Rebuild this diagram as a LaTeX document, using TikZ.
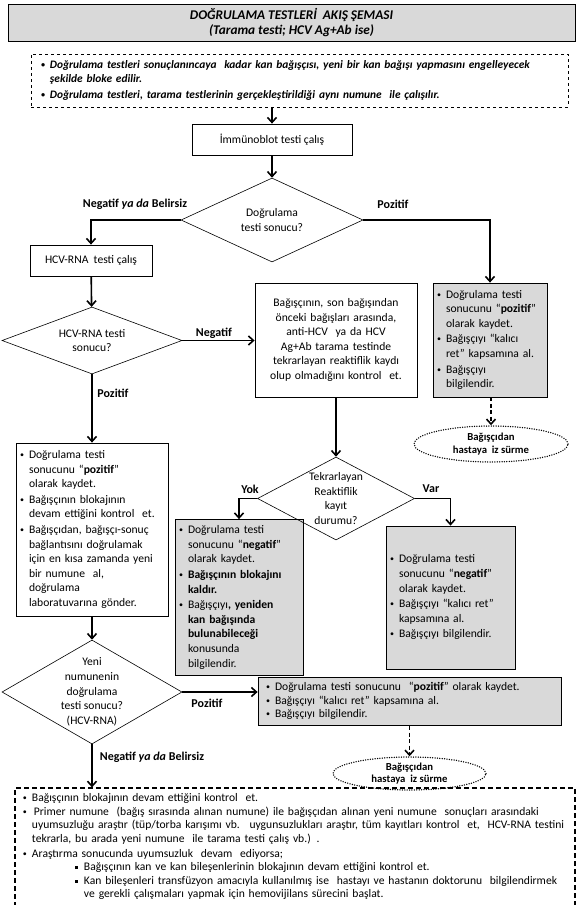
\documentclass[tikz,border=0pt]{standalone}
\usepackage{fontspec}
\setmainfont{Carlito}
\usepackage{xcolor}
\usetikzlibrary{arrows.meta,shapes.geometric}
\definecolor{gri}{HTML}{D9D9D9}
\newcommand{\mad}[1]{\makebox[9pt][l]{\raisebox{1pt}{\fontsize{8}{8}\selectfont\textbullet}}\begin{tabular}[t]{@{}l@{}}#1\end{tabular}}
\newcommand{\kare}[1]{\makebox[9pt][l]{\raisebox{1.5pt}{\rule{3.2pt}{3.2pt}}}\begin{tabular}[t]{@{}l@{}}#1\end{tabular}}

\begin{document}
\begin{tikzpicture}[x=1pt,y=-1pt,
  kutu/.style={draw, line width=0.8pt, inner sep=4pt, font=\fontsize{11.6}{14.6}\selectfont},
  gkutu/.style={kutu, fill=gri},
  karar/.style={diamond, draw, line width=0.6pt, inner sep=0pt},
  yazi/.style={align=center, font=\fontsize{11.6}{14.6}\selectfont},
  ok/.style={line width=1.6pt, -{Straight Barb[length=5pt,width=9pt]}},
  kesok/.style={ok, dash pattern=on 4pt off 2.5pt},
  iz/.style={ellipse, draw, line width=1.5pt, dash pattern=on 0pt off 2.4pt, line cap=round, inner sep=0pt, align=center, font=\fontsize{10.7}{12.7}\selectfont\bfseries},
  etiket/.style={font=\fontsize{12}{14.6}\selectfont\bfseries}]
\useasboundingbox (0,0) rectangle (577,905);
% блоки
\node[gkutu, minimum width=567, minimum height=37, align=center, font=\fontsize{13.3}{15}\selectfont\bfseries\itshape] (baslik) at (291.5,22.5)
  {DOĞRULAMA TESTLERİ \ AKIŞ ŞEMASI\\(Tarama testi; HCV Ag+Ab ise)};
\node[kutu, dashed, line width=0.6pt, text width=517, inner xsep=10pt, minimum height=47, align=left, font=\fontsize{11.4}{14.6}\selectfont\bfseries\itshape] (ust) at (299.5,80.5)
  {\mad{Doğrulama testleri sonuçlanıncaya \ kadar kan bağışçısı, yeni bir kan bağışı yapmasını engelleyecek\\şekilde bloke edilir.}\\
   \mad{Doğrulama testleri, tarama testlerinin gerçekleştirildiği aynı numune \ ile çalışılır.}};
\node[kutu, minimum width=160, minimum height=31] (imm) at (272,139.5) {İmmünoblot testi çalış};
\node[kutu, minimum width=122, minimum height=31] (hcv) at (91,260.5) {HCV-RNA \ testi çalış};
\node[kutu, text width=154, minimum height=114, align=center] (orta) at (336,340)
  {Bağışçının, son bağışından\\önceki bağışları arasında,\\anti-HCV \ ya da HCV\\Ag+Ab tarama testinde\\tekrarlayan reaktiflik kaydı\\olup olmadığını kontrol \ et.};
\node[gkutu, text width=106, minimum height=114, align=left] (sag) at (490,340)
  {\mad{Doğrulama testi\\sonucunu “\textbf{pozitif}”\\olarak kaydet.}\\
   \mad{Bağışçıyı “kalıcı\\ret” kapsamına al.}\\
   \mad{Bağışçıyı\\bilgilendir.}};
\node[iz, minimum width=154, minimum height=36] (iz1) at (491,444) {Bağışçıdan\\hastaya \ iz sürme};
\node[kutu, text width=144, minimum height=173, align=left] (sol) at (92,529.5)
  {\mad{Doğrulama testi\\sonucunu “\textbf{pozitif}”\\olarak kaydet.}\\
   \mad{Bağışçının blokajının\\devam ettiğini kontrol \ et.}\\
   \mad{Bağışçıdan, bağışçı-sonuç\\bağlantısını doğrulamak\\için en kısa zamanda yeni\\bir numune \ al,\\doğrulama\\laboratuvarına gönder.}};
\node[gkutu, text width=120, minimum height=143, align=left] (yok) at (239,597.5)
  {\mad{Doğrulama testi\\sonucunu “\textbf{negatif}”\\olarak kaydet.}\\
   \mad{\textbf{Bağışçının blokajını}\\\textbf{kaldır.}}\\
   \mad{Bağışçıyı\textbf{, yeniden}\\\textbf{kan bağışında}\\\textbf{bulunabileceği}\\konusunda\\bilgilendir.}};
\node[gkutu, text width=121, minimum height=143, align=left] (var) at (450.5,597.5)
  {\mad{Doğrulama testi\\sonucunu “\textbf{negatif}”\\olarak kaydet.}\\
   \mad{Bağışçıyı “kalıcı ret”\\kapsamına al.}\\
   \mad{Bağışçıyı bilgilendir.}};
\node[gkutu, text width=287, inner xsep=8pt, minimum height=45, align=left, font=\fontsize{11.6}{13.5}\selectfont] (poz) at (409.5,701.5)
  {\mad{Doğrulama testi sonucunu \ “\textbf{pozitif}” olarak kaydet.}\\
   \mad{Bağışçıyı “kalıcı ret” kapsamına al.}\\
   \mad{Bağışçıyı bilgilendir.}};
\node[iz, minimum width=153, minimum height=33] (iz2) at (409.5,773.5) {Bağışçıdan\\hastaya \ iz sürme};
\node[kutu, dashed, dash pattern=on 5pt off 3pt, line width=1.4pt, text width=544, inner xsep=8pt, minimum height=110, align=left, font=\fontsize{11.6}{13.6}\selectfont] (alt) at (295,847)
  {\mad{Bağışçının blokajının devam ettiğini kontrol \ et.}\\
   \mad{\,Primer numune \ (bağış sırasında alınan numune) ile bağışçıdan alınan yeni numune \ sonuçları arasındaki\\uyumsuzluğu araştır (tüp/torba karışımı vb. \ uygunsuzlukları araştır, tüm kayıtları kontrol \ et, \ HCV-RNA testini\\tekrarla, bu arada yeni numune \ ile tarama testi çalış vb.) .}\\
   \mad{Araştırma sonucunda uyumsuzluk \ devam \ ediyorsa;}\\
   \hspace*{52pt}\kare{Bağışçının kan ve kan bileşenlerinin blokajının devam ettiğini kontrol et.}\\
   \hspace*{52pt}\kare{Kan bileşenleri transfüzyon amacıyla kullanılmış ise \ hastayı ve hastanın doktorunu \ bilgilendirmek\\ve gerekli çalışmaları yapmak için hemovijilans sürecini başlat.}};
% ромбы
\node[karar, minimum width=182, minimum height=84] (k1) at (272,220) {};
\node[yazi] (k1y) at (k1) {Doğrulama\\testi sonucu?};
\node[karar, minimum width=180, minimum height=67] (k2) at (92,340.5) {};
\node[yazi] (k2y) at (k2) {HCV-RNA testi\\sonucu?};
\node[karar, minimum width=157, minimum height=83] (k3) at (336,498.5) {};
\node[yazi] (k3y) at (k3) {Tekrarlayan\\Reaktiflik\\kayıt\\durumu?};
\node[karar, minimum width=180, minimum height=104] (k4) at (92,692) {};
\node[yazi] (k4y) at (k4) {Yeni\\numunenin\\doğrulama\\testi sonucu?\\(HCV-RNA)};
% стрелки
\draw[ok] (imm.north |- ust.south) -- (imm.north);
\draw[ok] (imm) -- (k1);
\draw[ok] (k1.west) -| (hcv.north);
\draw[ok] (k1.east) -| (sag.north);
\draw[ok] (hcv) -- (k2);
\draw[ok] (k2.east) -- (k2.east -| orta.west);
\draw[ok] (k2) -- (sol);
\draw[kesok] (sag.south -| iz1.north) -- (iz1.north);
\draw[ok] (orta) -- (k3);
\draw[ok] (k3.west) -| (yok.north);
\draw[ok] (k3.east) -| (var.north);
\draw[ok] (sol) -- (k4);
\draw[ok] (k4.east) -- (k4.east -| poz.west);
\draw[kesok] (poz) -- (iz2);
\draw[ok] (k4.south) -- (k4.south |- alt.north);
% подписи
\node[etiket] (e1) at (135,204) {Negatif \textit{ya da} Belirsiz};
\node[etiket] (e2) at (393,204) {Pozitif};
\node[etiket] (e3) at (214,333) {Negatif};
\node[etiket] (e4) at (113,393) {Pozitif};
\node[etiket] (e5) at (250,489) {Yok};
\node[etiket] (e6) at (431,489) {Var};
\node[etiket] (e7) at (207,703) {Pozitif};
\node[etiket] (e8) at (152,757) {Negatif \textit{ya da} Belirsiz};
\end{tikzpicture}
\end{document}
